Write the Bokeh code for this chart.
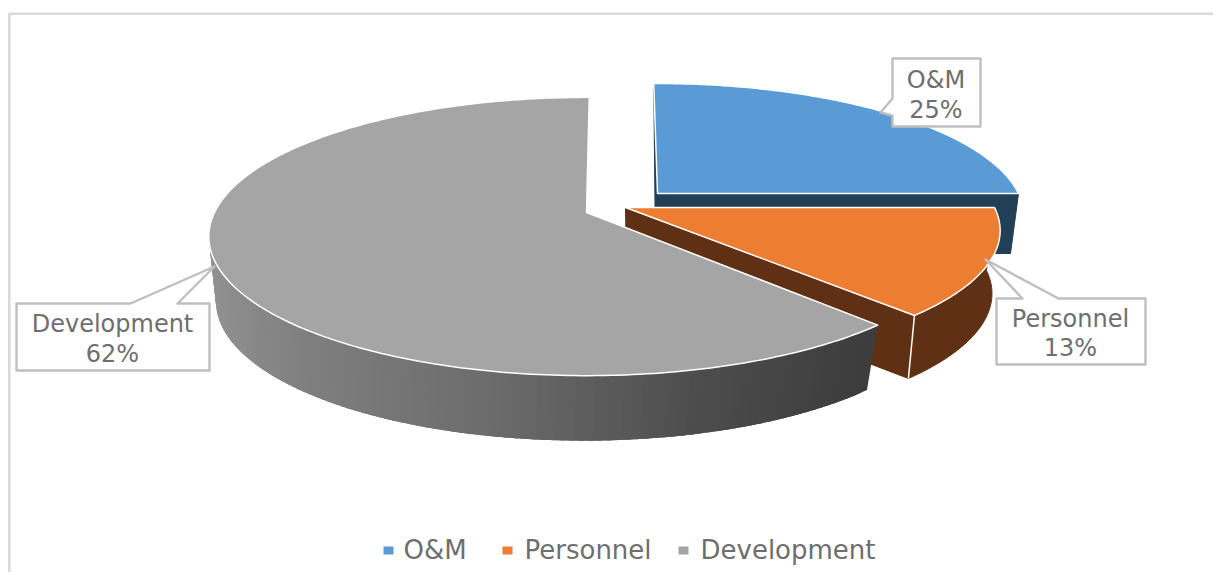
import math
from bokeh.plotting import figure
from bokeh.models import Range1d, ColumnDataSource
from bokeh.core.properties import value
from bokeh.embed import file_html
from bokeh.resources import INLINE

categories = ["O&M", "Personnel", "Development"]
shares = [25, 13, 62]
top_colors = ["#5B9BD5", "#ED7D31", "#A5A5A5"]
side_colors = ["#223F58", "#5F3014", "#6B6B6B"]
FONT = "DejaVu Sans"
TEXT = "#6E6E6E"
EDGE = "#BFBFBF"
K = 0.1726

# layout: top disk (cx, cy, rx, ry), bottom disk (cx, cy, rx, ry), start-angle nudge, end-angle nudge
blue_geo = ((657, 193, 361, 129), (655, 253, 355, 129), -0.7, 0.0)
orange_geo = ((625, 207, 369, 129.5), (626, 270, 360, 129.5), 0.0, 0.0)
gray_geo = ((586, 212, 372, 135), (583, 277, 362, 135), 0.0, 0.5)

gradient_x = [205, 300, 500, 700, 850, 880]
gradient_v = [146, 128, 107, 77, 62, 60]

W, H = 1213, 572
p = figure(width=W, height=H, output_backend="svg", toolbar_location=None,
           x_range=Range1d(0, W), y_range=Range1d(H, 0),
           min_border=0, outline_line_color=None, background_fill_color="white",
           border_fill_color="white")
p.axis.visible = False
p.grid.visible = False


def rim(d, deg):
    cx, cy, rx, ry = d
    t = math.radians(deg)
    u, v = math.sin(t), math.cos(t)
    w = 1 + K * v
    return cx + rx * u / w, cy - ry * v / w


def arc(d, a0, a1, n=90):
    pts = [rim(d, a0 + (a1 - a0) * i / n) for i in range(n + 1)]
    return [q[0] for q in pts], [q[1] for q in pts]


def poly(xs, ys, fill, line=None, lw=1.0):
    p.patch(xs, ys, fill_color=fill, line_color=line or fill, line_width=lw, line_join="round")


def gray_at(x):
    for i in range(len(gradient_x) - 1):
        if x <= gradient_x[i + 1]:
            f = max(0, (x - gradient_x[i]) / (gradient_x[i + 1] - gradient_x[i]))
            g = round(gradient_v[i] + f * (gradient_v[i + 1] - gradient_v[i]))
            return f"#{g:02x}{g:02x}{g:02x}"
    g = gradient_v[-1]
    return f"#{g:02x}{g:02x}{g:02x}"


edges = [0]
for s in shares:
    edges.append(edges[-1] + s * 3.6)

# O&M
top, bot, n0, n1 = blue_geo
a0, a1 = edges[0] + n0, edges[1] + n1
c, b = rim(top, a1), rim(bot, a1)
poly([top[0], c[0], b[0], bot[0]], [top[1], c[1], b[1], bot[1]], side_colors[0])
s = rim(top, a0)
poly([s[0], top[0], bot[0]], [s[1], top[1], bot[1]], side_colors[0])
xs, ys = arc(top, a0, a1)
poly([top[0]] + xs, [top[1]] + ys, top_colors[0], "white", 1.5)

# Personnel
top, bot, n0, n1 = orange_geo
a0, a1 = edges[1] + n0, edges[2] + n1
c, b = rim(top, a1), rim(bot, a1)
poly([top[0], c[0], b[0], bot[0]], [top[1], c[1], b[1], bot[1]], side_colors[1])
tx, ty = arc(top, a0, a1)
bx, by = arc(bot, a0, a1)
poly(tx + bx[::-1], ty + by[::-1], side_colors[1])
p.line([c[0], b[0]], [c[1], b[1]], line_color="white", line_width=1.5)
poly([top[0]] + tx, [top[1]] + ty, top_colors[1], "white", 1.5)

# Development
top, bot, n0, n1 = gray_geo
a0, a1 = edges[2] + n0, edges[3] + n1
wall_end = 285
steps = 120
dd = (wall_end - a0) / steps
wx, wy, wc = [], [], []
for i in range(steps):
    d0 = a0 + dd * i
    d1 = min(d0 + 2.5 * dd, wall_end)
    q = [rim(top, d0), rim(top, d1), rim(bot, d1), rim(bot, d0)]
    wx.append([r[0] for r in q])
    wy.append([r[1] for r in q])
    wc.append(gray_at((rim(top, d0)[0] + rim(bot, d0)[0]) / 2))
wall = ColumnDataSource(dict(xs=wx, ys=wy, c=wc))
p.patches("xs", "ys", source=wall, fill_color="c", line_color=None)
xs, ys = arc(top, a0, a1, 240)
poly([top[0]] + xs, [top[1]] + ys, top_colors[2], "white", 1.5)

# chart frame
p.line([1213, 8.8, 8.8], [13.2, 13.2, 572], line_color="#D9D9D9", line_width=2.6)

# data labels
callouts = [
    ([892, 892, 880, 892, 892, 980, 980], [58, 98, 112, 115, 126, 126, 58], 935.5, [79, 109]),
    ([996, 1022, 985, 1058, 1145, 1145, 996], [298, 298, 259, 298, 298, 364, 364], 1070, [318, 347]),
    ([16, 130, 214, 177, 209, 209, 16], [303, 303, 266, 303, 303, 370, 370], 112, [323, 353]),
]
for i, (bxs, bys, tx0, tys) in enumerate(callouts):
    poly(bxs, bys, "white", EDGE, 2.4)
    p.text([tx0], [tys[0]], text=[categories[i]], text_font=value(FONT), text_font_size="24px",
           text_color=TEXT, text_align="center", text_baseline="middle")
    p.text([tx0], [tys[1]], text=[f"{shares[i]}%"], text_font=value(FONT), text_font_size="24px",
           text_color=TEXT, text_align="center", text_baseline="middle")

# legend
swatch_x = [383, 502, 678]
label_x = [403, 524, 700]
for i in range(3):
    p.rect([swatch_x[i] + 5], [550], width=10, height=8, fill_color=top_colors[i], line_color=None)
    p.text([label_x[i]], [549], text=[categories[i]], text_font=value(FONT), text_font_size="26px",
           text_color=TEXT, text_align="left", text_baseline="middle")

open("out.html", "w").write(file_html(p, INLINE))
